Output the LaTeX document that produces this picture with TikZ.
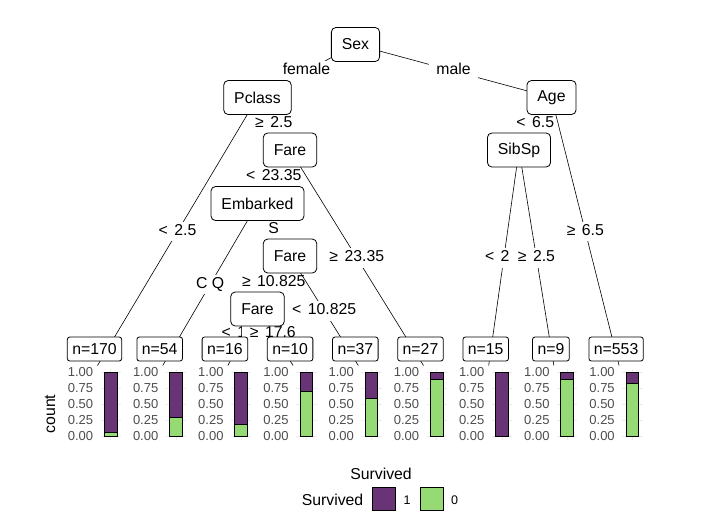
\documentclass[tikz,border=0pt]{standalone}
\usepackage{fontspec}
\setmainfont{Liberation Sans}
\usetikzlibrary{backgrounds}
\definecolor{survpurple}{HTML}{693476}
\definecolor{survgreen}{HTML}{95DA74}
\definecolor{axisgrey}{HTML}{4D4D4D}
\definecolor{gridgrey}{HTML}{EBEBEB}
% gap between a comparison sign and its threshold
\newcommand\cmpgap{\hspace{0.41em}}
\begin{document}
\begin{tikzpicture}[x=1pt,y=-1pt,
  splitnode/.style={draw=black, line width=0.8pt, rounded corners=4.5pt, fill=white,
    minimum height=34pt, inner xsep=10.5pt, inner ysep=0pt,
    font=\fontsize{15.8}{18}\selectfont},
  leafnode/.style={draw=black, line width=0.8pt, rounded corners=2.5pt, fill=white,
    minimum height=24pt, inner xsep=5pt, inner ysep=0pt,
    font=\fontsize{15.8}{18}\selectfont},
  branch/.style={draw=black, line width=0.6pt},
  cut/.style={fill=white, inner xsep=7.5pt, inner ysep=2pt, text height=11.5pt,
    text depth=4pt, font=\fontsize{15.8}{18}\selectfont},
  ticklab/.style={text=axisgrey, anchor=east, inner sep=0pt,
    font=\fontsize{13}{15}\selectfont},
  bigtext/.style={inner sep=0pt, font=\fontsize{15.8}{18}\selectfont},
  keybox/.style={draw=black, line width=0.8pt},
]
\useasboundingbox (0,0) rectangle (711,523);

% split nodes
\node[splitnode] (sex)      at (355.5,44.5)  {Sex};
\node[splitnode] (pclass)   at (257.5,97.5)  {Pclass};
\node[splitnode] (age)      at (551.5,97.5)  {Age};
\node[splitnode] (fareA)    at (290,150)     {Fare};
\node[splitnode] (sibsp)    at (519,150)     {SibSp};
\node[splitnode] (embarked) at (257.5,203.5) {Embarked};
\node[splitnode] (fareB)    at (290,256)     {Fare};
\node[splitnode] (fareC)    at (257.5,309)   {Fare};

% terminal nodes with their stacked bars
\foreach \i/\n/\f in {0/170/0.06, 1/54/0.296, 2/16/0.1875, 3/10/0.7, 4/37/0.585,
                      5/27/0.889, 6/15/0, 7/9/0.889, 8/553/0.828} {
  \pgfmathsetmacro{\cx}{94.5+65.2*\i}
  \node[leafnode] (leaf\i) at (\cx,349) {n=\n};
  \coordinate (tip\i) at ({\cx+3},365.5);
  % panel grid
  \foreach \v/\t in {0/0.00, 0.25/0.25, 0.5/0.50, 0.75/0.75, 1/1.00} {
    \pgfmathsetmacro{\yy}{436-64*\v}
    \draw[gridgrey, line width=0.5pt] ({\cx+6},\yy) -- ({\cx+26.5},\yy);
    \node[ticklab] at ({\cx-1.2},{\yy+0.5}) {\t};
  }
  \draw[gridgrey, line width=0.5pt] ({\cx+16.2},368.5) -- ({\cx+16.2},439.5);
  % bar
  \pgfmathsetmacro{\yb}{436-64*\f}
  \fill[survgreen] ({\cx+9.8},436) rectangle ({\cx+22.5},\yb);
  \fill[survpurple] ({\cx+9.8},\yb) rectangle ({\cx+22.5},372);
  \draw[black, line width=0.8pt] ({\cx+9.8},\yb) -- ({\cx+22.5},\yb);
  \draw[black, line width=0.8pt] ({\cx+9.8},372) rectangle ({\cx+22.5},436);
}

% branches and their split labels
\begin{pgfonlayer}{background}
\draw[branch] (sex.center) -- node[cut] {female} (pclass.center);
\draw[branch] (sex.center) -- node[cut] {male} (age.center);
\draw[branch] (pclass.center) -- node[cut] {<\cmpgap 2.5} (tip0);
\draw[branch] (pclass.center) -- node[cut] {≥\cmpgap 2.5} (fareA.center);
\draw[branch] (fareA.center) -- node[cut] {<\cmpgap 23.35} (embarked.center);
\draw[branch] (fareA.center) -- node[cut] {≥\cmpgap 23.35} (tip5);
\draw[branch] (embarked.center) -- node[cut] {C Q} (tip1);
\draw[branch] (embarked.center) -- node[cut] {S} (fareB.center);
\draw[branch] (fareB.center) -- node[cut] {≥\cmpgap 10.825} (fareC.center);
\draw[branch] (fareB.center) -- node[cut] {<\cmpgap 10.825} (tip4);
\draw[branch] (fareC.center) -- node[cut, pos=0.43] {<\cmpgap 17.6} (tip2);
\draw[branch] (fareC.center) -- node[cut, pos=0.43] {≥\cmpgap 17.6} (tip3);
\draw[branch] (age.center) -- node[cut] {<\cmpgap 6.5} (sibsp.center);
\draw[branch] (age.center) -- node[cut] {≥\cmpgap 6.5} (tip8);
\draw[branch] (sibsp.center) -- node[cut] {<\cmpgap 2.5} (tip6);
\draw[branch] (sibsp.center) -- node[cut] {≥\cmpgap 2.5} (tip7);
\end{pgfonlayer}

% axis title
\node[bigtext, rotate=90] (countlab) at (50,414) {count};

% legend
\node[bigtext] (legtitle) at (381,473.5) {Survived};
\node[bigtext] (legname) at (332.5,500) {Survived};
\filldraw[keybox, fill=survpurple] (372.3,487.3) rectangle (395.7,510.7);
\node[inner sep=0pt, font=\fontsize{12.5}{14}\selectfont] (legone) at (407.2,500) {1};
\filldraw[keybox, fill=survgreen] (420,487.3) rectangle (443.4,510.7);
\node[inner sep=0pt, font=\fontsize{12.5}{14}\selectfont] (legzero) at (454.5,500) {0};
\end{tikzpicture}
\end{document}
